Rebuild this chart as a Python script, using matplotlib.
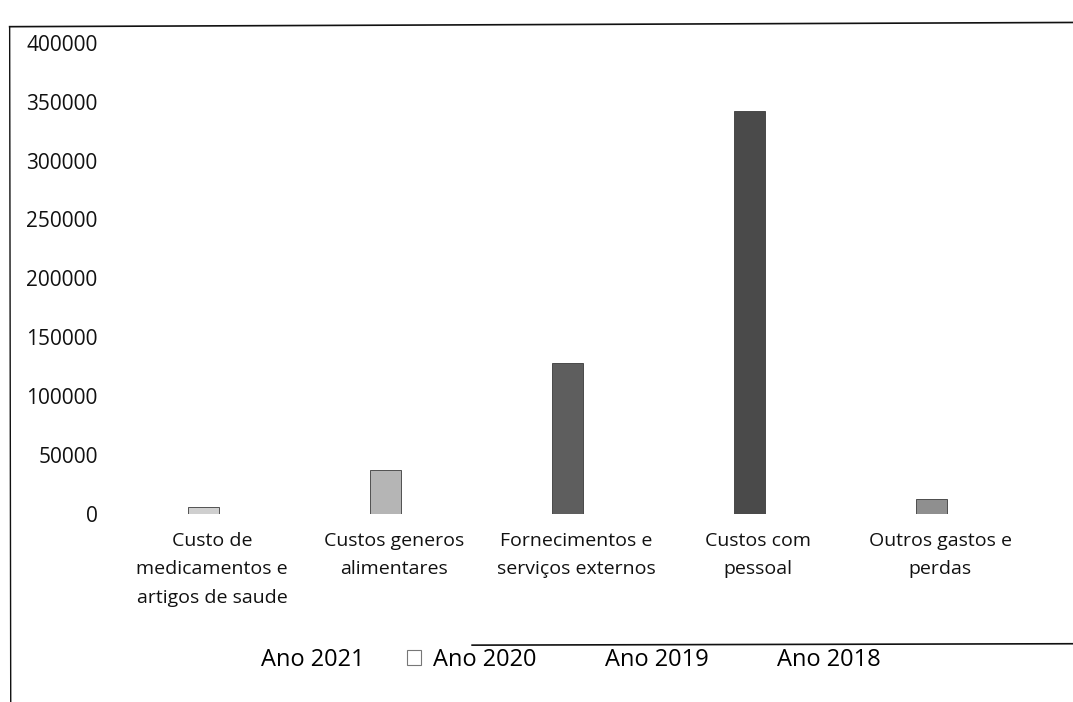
import matplotlib
matplotlib.use('Agg')
import matplotlib.pyplot as plt
from matplotlib.patches import Patch
from matplotlib.lines import Line2D
import numpy as np

plt.rcParams['font.family'] = ['Open Sans', 'DejaVu Sans']

categorias = ['Custo de\nmedicamentos e\nartigos de saude',
              'Custos generos\nalimentares',
              'Fornecimentos e\nserviços externos',
              'Custos com\npessoal',
              'Outros gastos e\nperdas']
ano_2020 = [6000, 37000, 128000, 342000, 13000]
series = ['Ano 2021', 'Ano 2020', 'Ano 2019', 'Ano 2018']
y_ticks = [0, 50000, 100000, 150000, 200000, 250000, 300000, 350000, 400000]

# tons de cinzento do original digitalizado
cores = ['#cfcfcf', '#b5b5b5', '#5e5e5e', '#4a4a4a', '#8f8f8f']

fig = plt.figure(figsize=(10.73, 7.02), dpi=100)
ax = fig.add_axes([0.113, 0.268, 0.848, 0.671])

x = np.arange(len(categorias))
ax.bar(x - 0.05, ano_2020, width=0.17, color=cores, edgecolor='#3a3a3a', linewidth=0.6)

ax.set_xlim(-0.5, len(categorias) - 0.5)
ax.set_ylim(0, 400000)
ax.set_yticks(y_ticks)
ax.set_yticklabels([str(v) for v in y_ticks], fontsize=15)
ax.set_xticks(x)
ax.set_xticklabels(categorias, fontsize=14, linespacing=1.75)
ax.tick_params(axis='y', length=0, pad=17, colors='#111111')
ax.tick_params(axis='x', length=0, pad=13, colors='#111111')
for s in ax.spines.values():
    s.set_visible(False)

# legenda: só o Ano 2020 tem marcador visível
handles = []
for nome in series:
    if nome == 'Ano 2020':
        handles.append(Patch(facecolor='white', edgecolor='#777777', linewidth=0.8, label=nome))
    else:
        handles.append(Patch(facecolor='none', edgecolor='none', label=nome))
fig.legend(handles=handles, loc='center', bbox_to_anchor=(0.52, 0.06), ncol=4,
           frameon=False, fontsize=17, handlelength=0.6, handleheight=0.6,
           handletextpad=0.5, columnspacing=1.8)

# moldura do gráfico (parcial, como no original)
fig.add_artist(Line2D([0.009, 1.0], [0.962, 0.968], transform=fig.transFigure, color='#111111', lw=1.2))
fig.add_artist(Line2D([0.009, 0.010], [0.962, 0.0], transform=fig.transFigure, color='#111111', lw=1.0))
fig.add_artist(Line2D([0.44, 1.0], [0.081, 0.083], transform=fig.transFigure, color='#111111', lw=1.2))

fig.savefig('out.png', dpi=100, facecolor='white')
